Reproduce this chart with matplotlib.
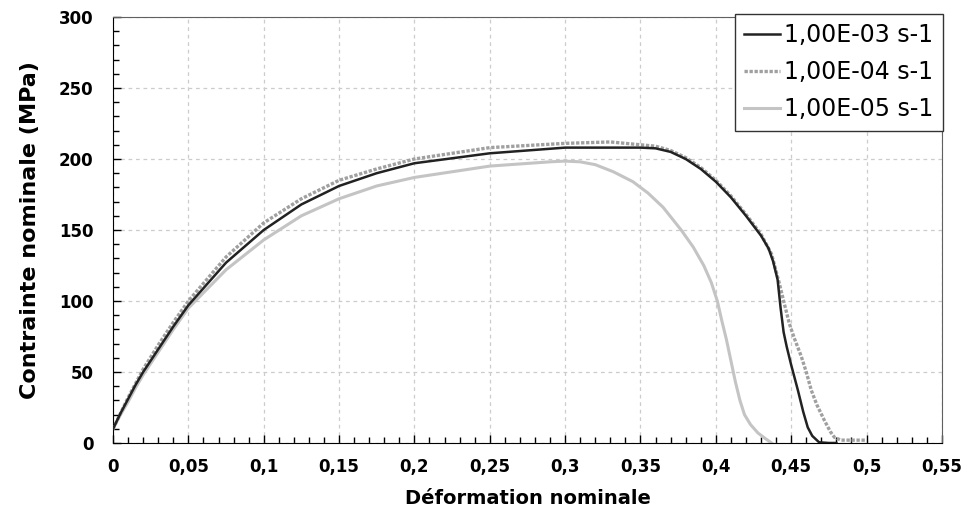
import matplotlib
matplotlib.use("Agg")
import matplotlib.pyplot as plt
from matplotlib.ticker import MultipleLocator, FuncFormatter

# strain / stress
labels = ["1,00E-03 s-1", "1,00E-04 s-1", "1,00E-05 s-1"]

eps_3 = [0, 0.005, 0.01, 0.015, 0.02, 0.03, 0.04, 0.05, 0.075, 0.1, 0.125,
         0.15, 0.175, 0.2, 0.25, 0.3, 0.35, 0.36, 0.37, 0.38, 0.39, 0.4,
         0.41, 0.42, 0.43, 0.435, 0.438, 0.441, 0.443, 0.445, 0.447, 0.45,
         0.4545, 0.458, 0.461, 0.464, 0.4685, 0.475, 0.48]
sig_3 = [10, 21, 31, 41, 50, 66, 82, 97, 127, 150, 168,
         181, 190, 197, 204, 208, 208, 207.5, 205, 200, 193, 184,
         173, 160, 146, 137, 128, 115, 95, 78, 68, 55,
         37, 22, 11, 5, 0.5, 0, 0]

eps_4 = [0, 0.005, 0.01, 0.015, 0.02, 0.03, 0.04, 0.05, 0.075, 0.1, 0.125,
         0.15, 0.175, 0.2, 0.25, 0.3, 0.33, 0.35, 0.36, 0.37, 0.38, 0.39,
         0.4, 0.41, 0.42, 0.43, 0.437, 0.442, 0.445, 0.4488, 0.452, 0.4567,
         0.46, 0.4634, 0.467, 0.472, 0.476, 0.4787, 0.483, 0.49, 0.5]
sig_4 = [10, 21, 32, 42, 52, 69, 85, 100, 131, 155, 172,
         185, 193, 200, 208, 211, 212, 210, 209, 206, 201, 194,
         185, 174, 161, 147, 133, 113, 100, 84, 74, 61,
         50, 37, 27, 16, 8, 4, 2, 2, 2]

eps_5 = [0, 0.005, 0.01, 0.015, 0.02, 0.03, 0.04, 0.05, 0.075, 0.1, 0.125,
         0.15, 0.175, 0.2, 0.25, 0.29, 0.3, 0.31, 0.32, 0.332, 0.345, 0.355,
         0.365, 0.377, 0.385, 0.392, 0.397, 0.401, 0.404, 0.407, 0.41, 0.413,
         0.416, 0.419, 0.423, 0.428, 0.433, 0.437]
sig_5 = [10, 20, 29, 39, 48, 64, 80, 95, 122, 143, 160,
         172, 181, 187, 195, 198, 198.5, 198, 196, 191, 184, 176,
         166, 150, 138, 125, 113, 100, 86, 73, 58, 43,
         30, 20, 13, 7, 3, 0]

fig = plt.figure(figsize=(9.67, 5.29), dpi=100)
ax = fig.add_axes([0.1169, 0.1626, 0.8571, 0.8053])

ax.plot(eps_3, sig_3, color='#222222', lw=1.8, label=labels[0], zorder=4)
ax.plot(eps_4, sig_4, color='#a0a0a0', lw=2.4, ls=(0, (1, 0.5)),
        label=labels[1], zorder=3)
ax.plot(eps_5, sig_5, color='#c4c4c4', lw=2.2, label=labels[2], zorder=2)

ax.set_xlim(0, 0.55)
ax.set_ylim(0, 300)
ax.xaxis.set_major_locator(MultipleLocator(0.05))
ax.xaxis.set_minor_locator(MultipleLocator(0.01))
ax.yaxis.set_major_locator(MultipleLocator(50))
ax.yaxis.set_minor_locator(MultipleLocator(10))


def comma(v, pos):
    s = "%g" % round(v, 4)
    return s.replace('.', ',')


ax.xaxis.set_major_formatter(FuncFormatter(comma))
ax.tick_params(which='both', direction='in', top=False, right=False)
ax.tick_params(which='major', length=6, width=1, labelsize=12)
ax.tick_params(which='minor', length=4, width=1)
ax.tick_params(axis='x', which='major', pad=11)
ax.tick_params(axis='y', which='major', pad=14)
plt.setp(ax.get_xticklabels() + ax.get_yticklabels(), fontweight='bold')

ax.grid(True, which='major', ls=(0, (3, 3)), color='#cccccc', lw=0.9)
ax.set_axisbelow(True)
for side in ['top', 'right']:
    ax.spines[side].set_color('#606060')

ax.set_xlabel("Déformation nominale", fontsize=14, fontweight='bold',
              labelpad=9)
ax.set_ylabel("Contrainte nominale (MPa)", fontsize=16, fontweight='bold',
              labelpad=14)

leg = ax.legend(loc='upper right', bbox_to_anchor=(943 / 967, 1 - 14 / 529),
                bbox_transform=fig.transFigure, fontsize=17, fancybox=False,
                framealpha=1, edgecolor='#333333', handlelength=1.5,
                handletextpad=0.2, borderaxespad=0, borderpad=0.4,
                labelspacing=0.55)
leg.get_frame().set_linewidth(1.0)

fig.savefig("out.png", dpi=100)
